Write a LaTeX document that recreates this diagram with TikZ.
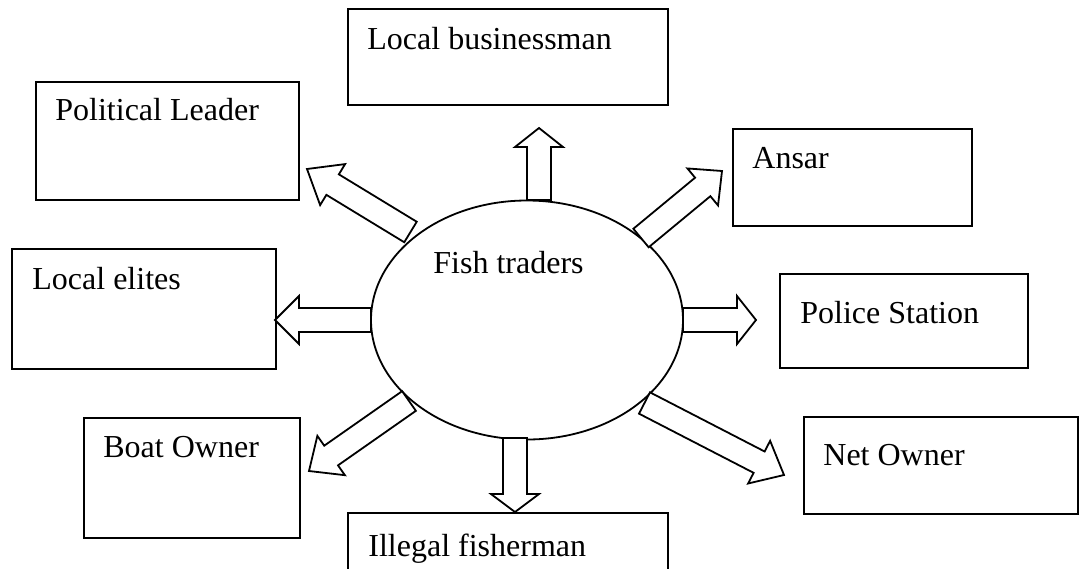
\documentclass[tikz,border=0pt]{standalone}
\usepackage{fontspec}
\setmainfont{Liberation Serif}
\usetikzlibrary{calc,shapes.geometric}

\tikzset{
  box/.style={draw, line width=0.9pt, inner sep=0pt, anchor=north west},
  lbl/.style={anchor=base west, inner sep=0pt, font=\fontsize{16}{19}\selectfont},
  hub/.style={draw, ellipse, line width=0.9pt, inner sep=0pt},
  blockarrow/.style={draw, fill=white, line width=0.9pt, line join=miter},
}

% half widths of the shaft and of the head of a block arrow
\newcommand\shaftw{6pt}
\newcommand\headw{12pt}

% block arrow: name, tail point, tip point, head length
\newcommand\blockarrow[4]{%
  \coordinate (#1-t) at (#2);
  \coordinate (#1-p) at (#3);
  \coordinate (#1-b) at ($(#1-p)!#4!(#1-t)$);
  \draw[blockarrow]
    ($(#1-t)!\shaftw!90:(#1-p)$) --
    ($(#1-b)!\shaftw!90:(#1-p)$) --
    ($(#1-b)!\headw!90:(#1-p)$) --
    (#1-p) --
    ($(#1-b)!\headw!-90:(#1-p)$) --
    ($(#1-b)!\shaftw!-90:(#1-p)$) --
    ($(#1-t)!\shaftw!-90:(#1-p)$) -- cycle;
}

\begin{document}
\begin{tikzpicture}[x=0.5pt, y=-0.5pt]
  \useasboundingbox (0,0) rectangle (1087,568);

  % surrounding boxes
  \node[box, minimum width=160pt,   minimum height=48pt]   (lb) at (347,8)   {};
  \node[box, minimum width=131.5pt, minimum height=59pt]   (pl) at (35,81)   {};
  \node[box, minimum width=119.5pt, minimum height=48.5pt] (an) at (732,128) {};
  \node[box, minimum width=132pt,   minimum height=60pt]   (le) at (11,248)  {};
  \node[box, minimum width=124pt,   minimum height=47pt]   (ps) at (779,273) {};
  \node[box, minimum width=108pt,   minimum height=60pt]   (bo) at (83,417)  {};
  \node[box, minimum width=137pt,   minimum height=48.5pt] (no) at (803,416) {};
  \node[box, minimum width=160pt,   minimum height=50pt]   (il) at (347,512) {};

  \node[lbl] (lbt) at (367,49)  {Local businessman};
  \node[lbl] (plt) at (55,120)  {Political Leader};
  \node[lbl] (ant) at (752,168) {Ansar};
  \node[lbl] (let) at (32,289)  {Local elites};
  \node[lbl] (pst) at (800,323) {Police Station};
  \node[lbl] (bot) at (103,457) {Boat Owner};
  \node[lbl] (not) at (823,465) {Net Owner};
  \node[lbl] (ilt) at (368,556) {Illegal fisherman};

  % central actor
  \node[hub, minimum width=156pt, minimum height=119.5pt] (ft) at (527,320) {};
  \node[lbl] (ftt) at (433,273) {Fish traders};

  % outgoing block arrows
  \blockarrow{up}{539,200}{539,128}{9.5pt}
  \blockarrow{ul}{410.5,232}{307,169}{15pt}
  \blockarrow{ur}{641,238}{722,171}{12.5pt}
  \blockarrow{lf}{371,320}{275,320}{12pt}
  \blockarrow{rt}{683,320}{756,320}{9.5pt}
  \blockarrow{dn}{515,438}{515,512}{9pt}
  \blockarrow{ll}{409,401}{309,471}{13.5pt}
  \blockarrow{lr}{644.5,403}{784,475}{14pt}
\end{tikzpicture}
\end{document}
